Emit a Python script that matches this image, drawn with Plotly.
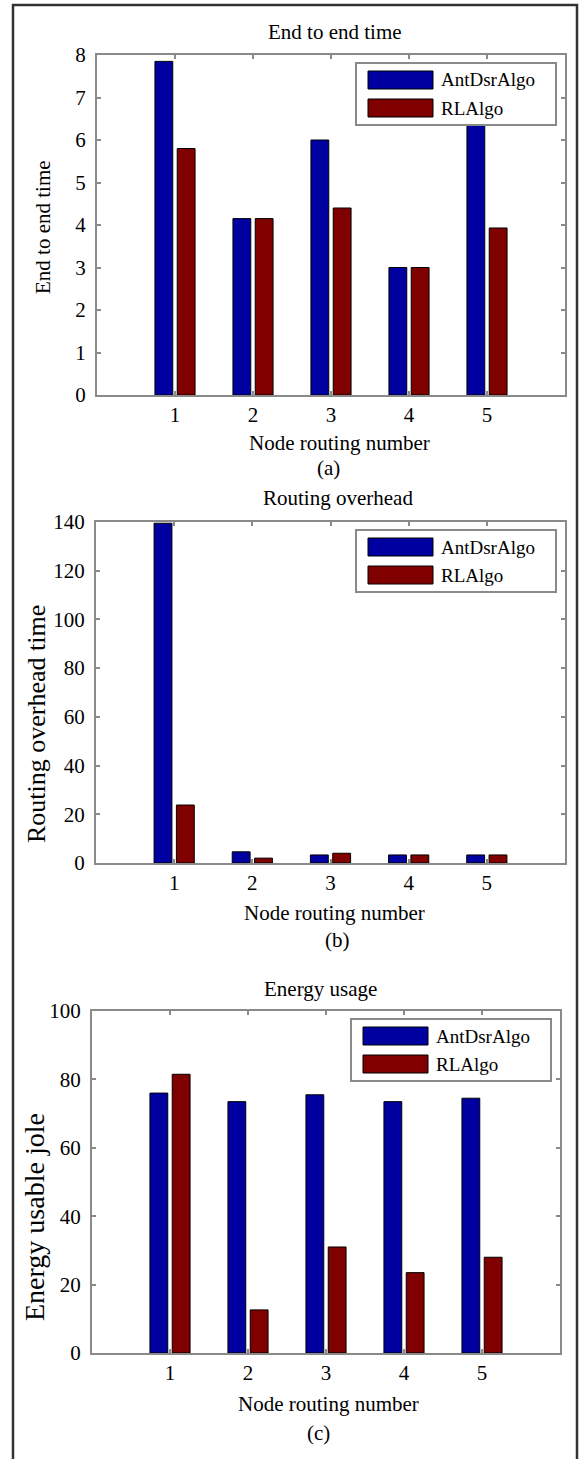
import plotly.graph_objects as go

# ---------------- data ----------------
nodes = [1, 2, 3, 4, 5]
series_names = ["AntDsrAlgo", "RLAlgo"]

end_to_end_ant = [7.85, 4.15, 6.0, 3.0, 6.4]
end_to_end_rl = [5.8, 4.15, 4.4, 3.0, 3.93]

overhead_ant = [139.5, 4.6, 3.3, 3.3, 3.3]
overhead_rl = [23.8, 2.0, 4.0, 3.3, 3.3]

energy_ant = [76.0, 73.5, 75.5, 73.5, 74.5]
energy_rl = [81.5, 12.6, 31.0, 23.5, 28.0]

panel_titles = ["End to end time", "Routing overhead", "Energy usage"]
y_titles = ["End to end time", "Routing overhead time", "Energy usable jole"]
x_title = "Node routing number"
panel_tags = ["(a)", "(b)", "(c)"]
y_ranges = [[0, 8], [0, 140], [0, 100]]
y_dticks = [1, 20, 20]

# ---------------- layout helpers (pixel geometry) ----------------
W, H = 580, 1459
FONT = "Liberation Serif"
C_BLUE = "#0000A0"
C_RED = "#800000"
AX_GRAY = "#8a8a8a"

# plot area boxes: left, right, top, bottom (px)
boxes = [(97, 565, 55, 395), (96, 565, 522, 863), (92, 560, 1011, 1353)]
title_pos = [(335, 32), (338, 498), (320, 989)]
xlabel_pos = [(340, 443), (334, 913), (328, 1404)]
tag_pos = [(328, 468), (337, 940), (318, 1433)]
ylabel_pos = [(43, 227), (36, 724), (34, 1217)]
ylabel_size = [21, 26, 28]


def px(x):
    return x / W


def py(y):
    return 1 - y / H


data_sets = [
    (end_to_end_ant, end_to_end_rl),
    (overhead_ant, overhead_rl),
    (energy_ant, energy_rl),
]

fig = go.Figure()
layout_axes = {}
annotations = []
shapes = []

for i, (ant, rl) in enumerate(data_sets):
    sfx = "" if i == 0 else str(i + 1)
    xa, ya = "x" + sfx, "y" + sfx
    for name, vals, col in zip(series_names, (ant, rl), (C_BLUE, C_RED)):
        fig.add_trace(go.Bar(
            x=nodes, y=vals, name=name, xaxis=xa, yaxis=ya,
            marker=dict(color=col, line=dict(color="black", width=1)),
            showlegend=False,
        ))
    l, r, t, b = boxes[i]
    common = dict(
        showline=True, linecolor=AX_GRAY, linewidth=2, mirror="ticks",
        ticks="inside", ticklen=4, tickcolor=AX_GRAY, tickwidth=1.5,
        showgrid=False, zeroline=False, automargin=False,
        tickfont=dict(family=FONT, size=21, color="black"),
    )
    layout_axes["xaxis" + sfx] = dict(
        common, domain=[px(l), px(r)], range=[0, 6], tickvals=nodes,
        anchor=ya, ticklabelstandoff=0,
    )
    layout_axes["yaxis" + sfx] = dict(
        common, domain=[py(b), py(t)], range=y_ranges[i], dtick=y_dticks[i],
        anchor=xa, ticklabelstandoff=5,
    )

    # texts
    tx, ty = title_pos[i]
    annotations.append(dict(text=panel_titles[i], x=px(tx), y=py(ty), xref="paper", yref="paper",
                            xanchor="center", yanchor="middle", showarrow=False,
                            font=dict(family=FONT, size=21, color="black")))
    lx, ly = xlabel_pos[i]
    annotations.append(dict(text=x_title, x=px(lx), y=py(ly), xref="paper", yref="paper",
                            xanchor="center", yanchor="middle", showarrow=False,
                            font=dict(family=FONT, size=21, color="black")))
    gx, gy = tag_pos[i]
    annotations.append(dict(text=panel_tags[i], x=px(gx), y=py(gy), xref="paper", yref="paper",
                            xanchor="center", yanchor="middle", showarrow=False,
                            font=dict(family=FONT, size=21, color="black")))
    yx, yy = ylabel_pos[i]
    annotations.append(dict(text=y_titles[i], x=px(yx), y=py(yy), xref="paper", yref="paper",
                            xanchor="center", yanchor="middle", showarrow=False, textangle=-90,
                            font=dict(family=FONT, size=ylabel_size[i], color="black")))

    # legend box (drawn manually to mimic the MATLAB legend)
    bw, bh = 200, 62
    bl, bt = r - 9 - bw, t + 8
    shapes.append(dict(type="rect", xref="paper", yref="paper",
                       x0=px(bl), x1=px(bl + bw), y0=py(bt + bh), y1=py(bt),
                       line=dict(color=AX_GRAY, width=2), fillcolor="white", layer="above"))
    for k, (name, col) in enumerate(zip(series_names, (C_BLUE, C_RED))):
        cy = bt + 17 + 28 * k
        shapes.append(dict(type="rect", xref="paper", yref="paper",
                           x0=px(bl + 12), x1=px(bl + 77), y0=py(cy + 9), y1=py(cy - 9),
                           line=dict(color="black", width=1), fillcolor=col, layer="above"))
        annotations.append(dict(text=name, x=px(bl + 83), y=py(cy), xref="paper", yref="paper",
                                xanchor="left", yanchor="middle", showarrow=False,
                                font=dict(family=FONT, size=19, color="black")))

# outer frame
shapes.append(dict(type="rect", xref="paper", yref="paper",
                   x0=px(13), x1=px(577), y0=-0.02, y1=py(5),
                   line=dict(color="#333333", width=2.5), layer="above"))

fig.update_layout(
    width=W, height=H,
    margin=dict(l=0, r=0, t=0, b=0),
    paper_bgcolor="white", plot_bgcolor="white",
    template="none",
    barmode="group", bargap=0.4286, bargroupgap=0.2,
    showlegend=False,
    annotations=annotations, shapes=shapes,
    **layout_axes,
)

fig.write_html("out.html")
